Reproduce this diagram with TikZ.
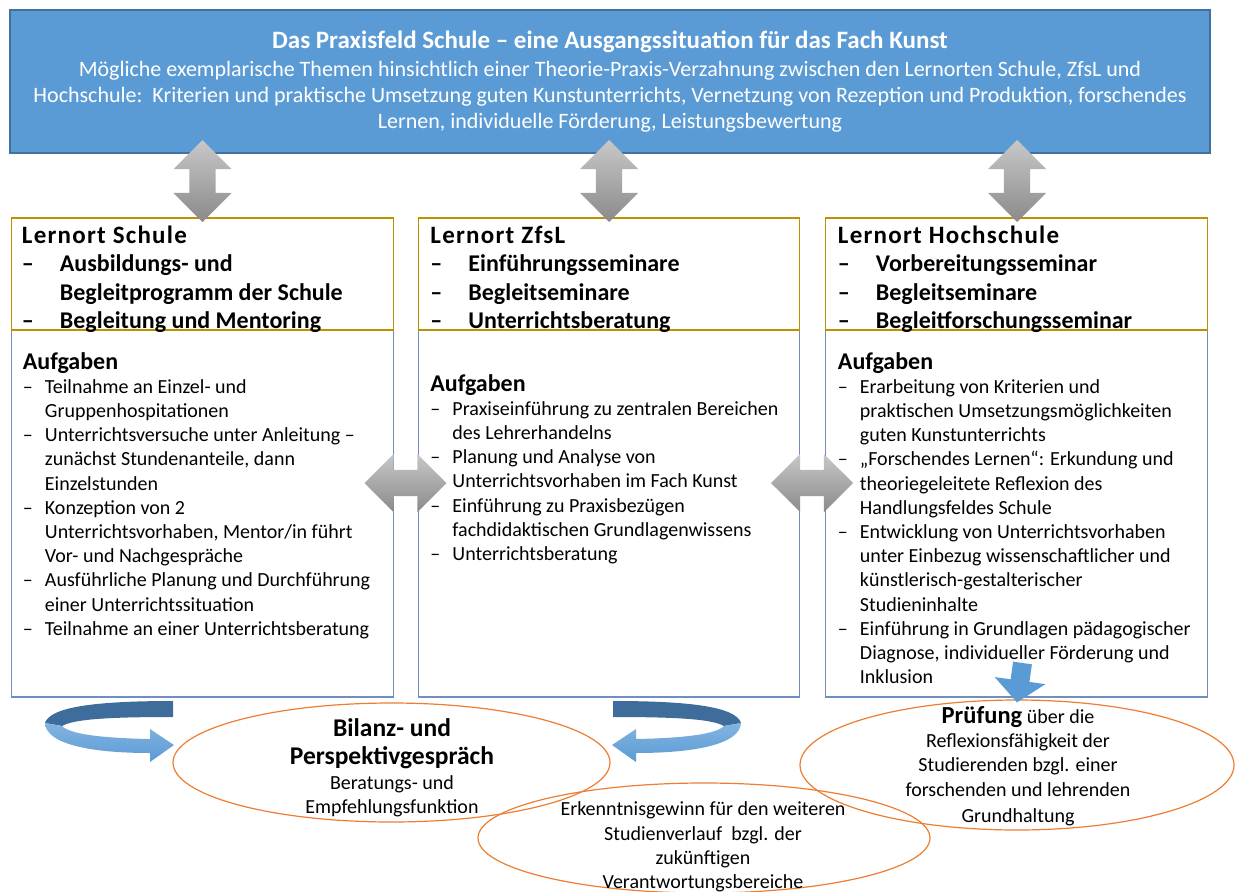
\documentclass[tikz,border=0pt]{standalone}
\usepackage{fontspec}
\setmainfont{Carlito}
\newfontfamily\kopfschrift[LetterSpace=5]{Carlito}
\usepackage{tikz}
\usetikzlibrary{shapes.geometric, shapes.arrows, arrows.meta, positioning, calc}
\definecolor{kopfblau}{RGB}{91,155,213}
\definecolor{randblau}{RGB}{65,113,156}
\definecolor{dunkelblau}{RGB}{62,108,155}
\definecolor{goldrand}{RGB}{191,144,0}
\definecolor{kastenrand}{RGB}{112,143,192}
\definecolor{ovalorange}{RGB}{237,125,49}
\definecolor{pfeilhell}{RGB}{200,200,200}
\definecolor{pfeildunkel}{RGB}{138,138,138}

% Aufzaehlungen mit haengendem Einzug
\newcommand{\kopfpunkt}[1]{\par\hangindent=38pt\hangafter=1\noindent\makebox[38pt][l]{–}#1}
\newcommand{\aufgpunkt}[1]{\par\hangindent=22pt\hangafter=1\noindent\makebox[22pt][l]{–}#1}

\begin{document}
\begin{tikzpicture}[
    x=1pt, y=-1pt,
    titelbox/.style={rectangle, draw=randblau, line width=1.5pt, fill=kopfblau, minimum width=1200pt, minimum height=143pt, align=center, text=white, font=\fontsize{22}{26}\selectfont},
    kopfbox/.style={rectangle, draw=goldrand, line width=1.2pt, minimum width=381.5pt, minimum height=112pt, outer sep=0pt},
    aufgbox/.style={rectangle, draw=kastenrand, line width=1.2pt, minimum width=381.5pt, minimum height=367pt, outer sep=0pt},
    kopftext/.style={anchor=north west, inner sep=0pt, text width=370pt, align=flush left, font=\fontsize{24}{28.5}\selectfont\bfseries},
    aufgtext/.style={anchor=north west, inner sep=0pt, text width=370pt, align=flush left, font=\fontsize{20}{24.2}\selectfont},
    grauhoriz/.style={double arrow, double arrow head extend=16pt, double arrow tip angle=90, inner sep=13pt, minimum height=82pt, top color=pfeilhell, bottom color=pfeildunkel, draw=none},
    grauvert/.style={grauhoriz, shape border rotate=90},
    ovalrand/.style={ellipse, draw=ovalorange, line width=1.2pt, inner sep=0pt},
    ovaltext/.style={align=center, inner sep=0pt, font=\fontsize{20}{24.3}\selectfont},
    blaupfeil/.style={-{Triangle[width=50pt, length=22pt]}, line width=19pt, draw=kopfblau}
]
\useasboundingbox (0,0) rectangle (1235,892);

% Kopf
\node[titelbox] (praxis) at (610,81.5) {\textbf{\fontsize{25}{27}\selectfont Das Praxisfeld Schule – eine Ausgangssituation für das Fach Kunst}\\[2pt]
  Mögliche exemplarische Themen hinsichtlich einer Theorie-Praxis-Verzahnung zwischen den Lernorten Schule, ZfsL und\\
  Hochschule:\ \ Kriterien und praktische Umsetzung guten Kunstunterrichts, Vernetzung von Rezeption und Produktion, forschendes\\
  Lernen, individuelle Förderung, Leistungsbewertung};

% Lernorte
\node[aufgbox] (schuleaufg) at (202.5,513.5) {};
\node[aufgbox, right=25pt of schuleaufg] (zfslaufg) {};
\node[aufgbox, right=26pt of zfslaufg] (hsaufg) {};
\node[kopfbox, above=0pt of schuleaufg] (schulekopf) {};
\node[kopfbox, above=0pt of zfslaufg] (zfslkopf) {};
\node[kopfbox, above=0pt of hsaufg] (hskopf) {};

\node[kopftext] (schulekopftxt) at ($(schulekopf.north west)+(10,7.5)$) {\noindent{\kopfschrift\fontsize{25}{28.5}\selectfont Lernort Schule}
  \kopfpunkt{Ausbildungs- und\newline Begleitprogramm der Schule}
  \kopfpunkt{Begleitung und Mentoring}\par};
\node[kopftext] (zfslkopftxt) at ($(zfslkopf.north west)+(12,7.5)$) {\noindent{\kopfschrift\fontsize{25}{28.5}\selectfont Lernort ZfsL}
  \kopfpunkt{Einführungsseminare}
  \kopfpunkt{Begleitseminare}
  \kopfpunkt{Unterrichtsberatung}\par};
\node[kopftext] (hskopftxt) at ($(hskopf.north west)+(12,7.5)$) {\noindent{\kopfschrift\fontsize{25}{28.5}\selectfont Lernort Hochschule}
  \kopfpunkt{Vorbereitungsseminar}
  \kopfpunkt{Begleitseminare}
  \kopfpunkt{Begleitforschungsseminar}\par};

\node[aufgtext] (schuleaufgtxt) at ($(schuleaufg.north west)+(11,22)$) {\noindent{\fontsize{24}{27}\selectfont\bfseries Aufgaben}
  \aufgpunkt{Teilnahme an Einzel- und\newline Gruppenhospitationen}
  \aufgpunkt{Unterrichtsversuche unter Anleitung –\newline zunächst Stundenanteile, dann\newline Einzelstunden}
  \aufgpunkt{Konzeption von 2\newline Unterrichtsvorhaben, Mentor/in führt\newline Vor- und Nachgespräche}
  \aufgpunkt{Ausführliche Planung und Durchführung\newline einer Unterrichtssituation}
  \aufgpunkt{Teilnahme an einer Unterrichtsberatung}\par};
\node[aufgtext] (zfslaufgtxt) at ($(zfslaufg.north west)+(12,44)$) {\noindent{\fontsize{24}{27}\selectfont\bfseries Aufgaben}
  \aufgpunkt{Praxiseinführung zu zentralen Bereichen\newline des Lehrerhandelns}
  \aufgpunkt{Planung und Analyse von\newline Unterrichtsvorhaben im Fach Kunst}
  \aufgpunkt{Einführung zu Praxisbezügen\newline fachdidaktischen Grundlagenwissens}
  \aufgpunkt{Unterrichtsberatung}\par};
\node[aufgtext] (hsaufgtxt) at ($(hsaufg.north west)+(12,22)$) {\noindent{\fontsize{24}{27}\selectfont\bfseries Aufgaben}
  \aufgpunkt{Erarbeitung von Kriterien und\newline praktischen Umsetzungsmöglichkeiten\newline guten Kunstunterrichts}
  \aufgpunkt{„Forschendes Lernen“: Erkundung und\newline theoriegeleitete Reflexion des\newline Handlungsfeldes Schule}
  \aufgpunkt{Entwicklung von Unterrichtsvorhaben\newline unter Einbezug wissenschaftlicher und\newline künstlerisch-gestalterischer\newline Studieninhalte}
  \aufgpunkt{Einführung in Grundlagen pädagogischer\newline Diagnose, individueller Förderung und\newline Inklusion}\par};

% graue Doppelpfeile
\node[grauvert] (pfeilschule) at (202.5,181) {};
\node[grauvert] (pfeilzfsl) at (609,181) {};
\node[grauvert] (pfeilhs) at (1017,181) {};
\node[grauhoriz] (pfeillinks) at (405.5,483) {};
\node[grauhoriz] (pfeilrechts) at (812,483) {};

% Ovale
\node[ovalrand, minimum width=437pt, minimum height=119pt] (bilanz) at (391.5,762.5) {};
\node[ovalrand, minimum width=452pt, minimum height=110pt] (erkenntnis) at (704,838) {};
\node[ovalrand, minimum width=434pt, minimum height=130pt] (pruefung) at (1017,765) {};

\node[ovaltext] (bilanztxt) at (392,768) {{\fontsize{25.5}{28}\selectfont\bfseries Bilanz- und}\\[3pt]
  {\fontsize{25.5}{28}\selectfont\bfseries Perspektivgespräch}\\[1pt]
  Beratungs- und\\ Empfehlungsfunktion};
\node[ovaltext] (erktxt) at (703,847) {Erkenntnisgewinn für den weiteren\\ Studienverlauf\ \ bzgl. der\\ zukünftigen\\ Verantwortungsbereiche};
\node[ovaltext] (prueftxt) at (1018,766) {{\fontsize{24.5}{26}\selectfont\bfseries Prüfung} über die\\ Reflexionsfähigkeit der\\ Studierenden bzgl. einer\\ forschenden und lehrenden\\[2pt] Grundhaltung};

% blaue Pfeile
\draw[blaupfeil] ($(hsaufg.south)+(6,-34)$) -- ([yshift=-3pt]pruefung.north);
\fill[dunkelblau] (173,701) -- (173,717) .. controls (110,717) and (74,719) .. (62,726) -- (45,723) .. controls (50,707) and (95,701) .. (173,701) -- cycle;
\shade[top color=kopfblau!75!white, bottom color=kopfblau] (45,723) -- (62,726) .. controls (70,734) and (100,738) .. (150,739) -- (150,729) -- (174,745) -- (150,762) -- (150,753) .. controls (90,753) and (46,744) .. (45,723) -- cycle;
\begin{scope}[shift={(786,0)}, xscale=-1]
\fill[dunkelblau] (173,701) -- (173,717) .. controls (110,717) and (74,719) .. (62,726) -- (45,723) .. controls (50,707) and (95,701) .. (173,701) -- cycle;
\shade[top color=kopfblau!75!white, bottom color=kopfblau] (45,723) -- (62,726) .. controls (70,734) and (100,738) .. (150,739) -- (150,729) -- (174,745) -- (150,762) -- (150,753) .. controls (90,753) and (46,744) .. (45,723) -- cycle;
\end{scope}
\end{tikzpicture}
\end{document}
